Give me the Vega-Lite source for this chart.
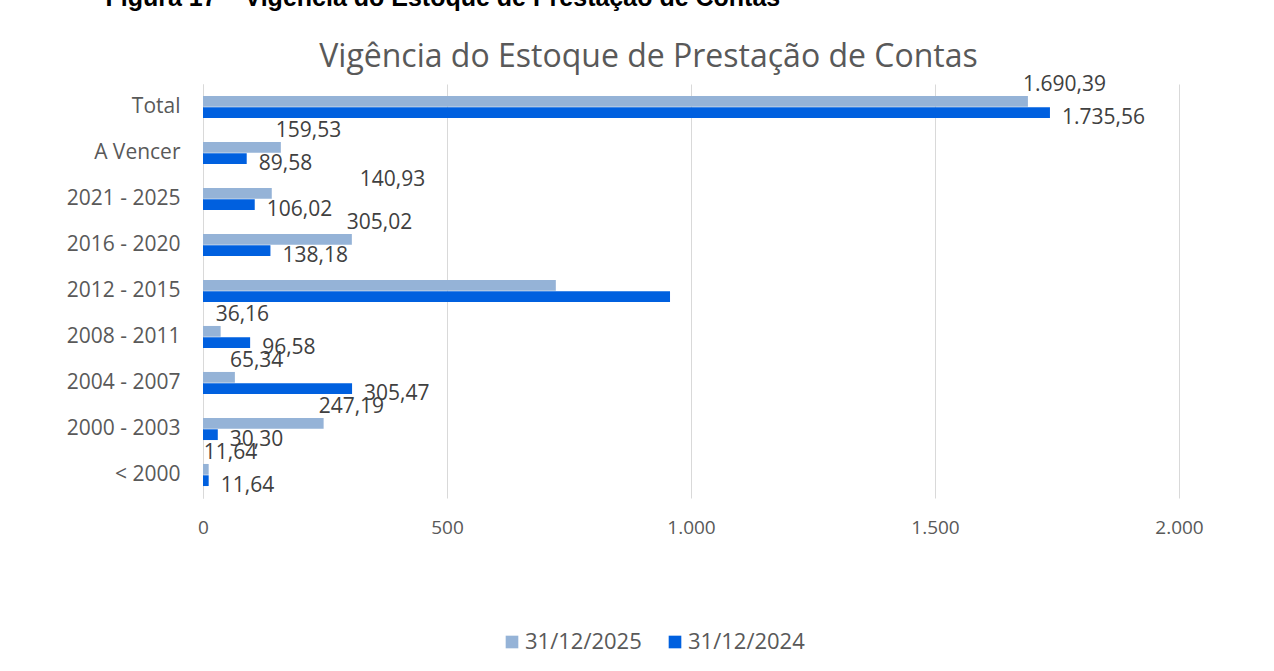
{
  "$schema": "https://vega.github.io/schema/vega-lite/v6.json",
  "width": 976,
  "height": 414,
  "autosize": "none",
  "padding": {"left": 203, "top": 84, "right": 95, "bottom": 173},
  "background": "white",
  "config": {"view": {"stroke": null}},
  "data": {
    "values": [
      {"cat": "Total", "series": "31/12/2025", "value": 1690.39, "label": "1.690,39"},
      {"cat": "Total", "series": "31/12/2024", "value": 1735.56, "label": "1.735,56"},
      {"cat": "A Vencer", "series": "31/12/2025", "value": 159.53, "label": "159,53"},
      {"cat": "A Vencer", "series": "31/12/2024", "value": 89.58, "label": "89,58"},
      {"cat": "2021 - 2025", "series": "31/12/2025", "value": 140.93, "label": "140,93"},
      {"cat": "2021 - 2025", "series": "31/12/2024", "value": 106.02, "label": "106,02"},
      {"cat": "2016 - 2020", "series": "31/12/2025", "value": 305.02, "label": "305,02"},
      {"cat": "2016 - 2020", "series": "31/12/2024", "value": 138.18, "label": "138,18"},
      {"cat": "2012 - 2015", "series": "31/12/2025", "value": 723, "label": ""},
      {"cat": "2012 - 2015", "series": "31/12/2024", "value": 957, "label": ""},
      {"cat": "2008 - 2011", "series": "31/12/2025", "value": 36.16, "label": "36,16"},
      {"cat": "2008 - 2011", "series": "31/12/2024", "value": 96.58, "label": "96,58"},
      {"cat": "2004 - 2007", "series": "31/12/2025", "value": 65.34, "label": "65,34"},
      {"cat": "2004 - 2007", "series": "31/12/2024", "value": 305.47, "label": "305,47"},
      {"cat": "2000 - 2003", "series": "31/12/2025", "value": 247.19, "label": "247,19"},
      {"cat": "2000 - 2003", "series": "31/12/2024", "value": 30.30, "label": "30,30"},
      {"cat": "< 2000", "series": "31/12/2025", "value": 11.64, "label": "11,64"},
      {"cat": "< 2000", "series": "31/12/2024", "value": 11.64, "label": "11,64"}
    ]
  },
  "resolve": {"axis": {"x": "independent"}},
  "layer": [
    {
      "mark": {"type": "bar"},
      "encoding": {
        "y": {
          "field": "cat", "type": "nominal",
          "sort": ["Total", "A Vencer", "2021 - 2025", "2016 - 2020", "2012 - 2015", "2008 - 2011", "2004 - 2007", "2000 - 2003", "< 2000"],
          "scale": {"paddingInner": 0.52, "paddingOuter": 0.26},
          "axis": {"title": null, "ticks": false, "domainColor": "#d9d9d9", "domainWidth": 1, "labelFont": "Open Sans", "labelFontSize": 21, "labelColor": "#595959", "labelPadding": 23}
        },
        "yOffset": {"field": "series", "type": "nominal", "sort": ["31/12/2025", "31/12/2024"], "scale": {"paddingInner": 0.05}},
        "x": {
          "field": "value", "type": "quantitative",
          "scale": {"domain": [0, 2000], "nice": false},
          "axis": {"title": null, "values": [0, 500, 1000, 1500, 2000], "ticks": false, "domain": false, "gridColor": "#d9d9d9", "gridWidth": 1, "labelFont": "Open Sans", "labelFontSize": 19, "labelColor": "#595959", "labelPadding": 20, "labelFlush": false, "labelExpr": "replace(format(datum.value, ','), ',', '.')"}
        },
        "color": {
          "field": "series", "type": "nominal",
          "scale": {"domain": ["31/12/2025", "31/12/2024"], "range": ["#95B3D7", "#0060DF"]},
          "legend": {"orient": "none", "legendX": 298, "legendY": 547, "direction": "horizontal", "title": null, "symbolType": "square", "symbolSize": 160, "symbolStrokeWidth": 0, "symbolOpacity": 1, "labelFont": "Open Sans", "labelFontSize": 22, "labelColor": "#595959", "labelOffset": 2, "columnPadding": 22}
        }
      }
    },
    {
      "transform": [{"filter": "datum.series == '31/12/2025' && datum.cat != '2021 - 2025'"}],
      "mark": {"type": "text", "align": "left", "baseline": "middle", "dx": -5, "dy": -16, "font": "Open Sans", "fontSize": 21, "color": "#404040"},
      "encoding": {
        "y": {"field": "cat", "type": "nominal", "sort": ["Total", "A Vencer", "2021 - 2025", "2016 - 2020", "2012 - 2015", "2008 - 2011", "2004 - 2007", "2000 - 2003", "< 2000"]},
        "yOffset": {"field": "series", "type": "nominal", "sort": ["31/12/2025", "31/12/2024"]},
        "x": {
          "field": "value", "type": "quantitative",
          "axis": {"orient": "top", "labels": false, "ticks": false, "domain": false, "grid": false, "title": "Figura 17 – Vigência do Estoque de Prestação de Contas", "titleFont": "Liberation Sans", "titleFontSize": 25, "titleFontWeight": "bold", "titleColor": "#000000", "titleAlign": "left", "titleAnchor": "start", "titleAngle": 0, "titleBaseline": "alphabetic", "titleX": -98, "titleY": -79}
        },
        "text": {"field": "label"}
      }
    },
    {
      "transform": [{"filter": "datum.series == '31/12/2025' && datum.cat == '2021 - 2025'"}],
      "mark": {"type": "text", "align": "left", "baseline": "middle", "dx": 88, "dy": -13, "font": "Open Sans", "fontSize": 21, "color": "#404040"},
      "encoding": {
        "y": {"field": "cat", "type": "nominal", "sort": ["Total", "A Vencer", "2021 - 2025", "2016 - 2020", "2012 - 2015", "2008 - 2011", "2004 - 2007", "2000 - 2003", "< 2000"]},
        "yOffset": {"field": "series", "type": "nominal", "sort": ["31/12/2025", "31/12/2024"]},
        "x": {"field": "value", "type": "quantitative", "axis": null},
        "text": {"field": "label"}
      }
    },
    {
      "transform": [{"filter": "datum.series == '31/12/2024'"}],
      "mark": {"type": "text", "align": "left", "baseline": "middle", "dx": 12, "dy": 5, "font": "Open Sans", "fontSize": 21, "color": "#404040"},
      "encoding": {
        "y": {"field": "cat", "type": "nominal", "sort": ["Total", "A Vencer", "2021 - 2025", "2016 - 2020", "2012 - 2015", "2008 - 2011", "2004 - 2007", "2000 - 2003", "< 2000"]},
        "yOffset": {"field": "series", "type": "nominal", "sort": ["31/12/2025", "31/12/2024"]},
        "x": {
          "field": "value", "type": "quantitative",
          "axis": {"orient": "top", "labels": false, "ticks": false, "domain": false, "grid": false, "title": "Vigência do Estoque de Prestação de Contas", "titleFont": "Open Sans", "titleFontSize": 32, "titleFontWeight": "normal", "titleColor": "#595959", "titleAlign": "center", "titleAnchor": "start", "titleAngle": 0, "titleBaseline": "alphabetic", "titleX": 445, "titleY": -18}
        },
        "text": {"field": "label"}
      }
    }
  ]
}
